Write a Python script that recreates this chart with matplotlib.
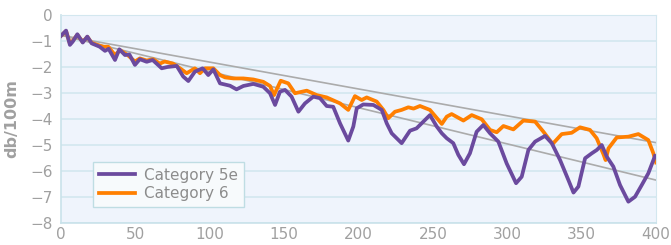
import numpy as np
import matplotlib
matplotlib.use('Agg')
import matplotlib.pyplot as plt

# Category 5e readings (length, db/100m)
cat5e_x = [0, 3.4, 6, 7.8, 11, 14.6, 17.7, 20.6, 26, 29.6, 32, 36.3, 39.2, 43, 46, 49.7,
           53, 57.6, 61.6, 67.7, 71.5, 77.8, 82.2, 85.6, 90, 95.2, 99, 102.4, 106.9, 113.6,
           118, 122.6, 129.3, 136, 140.5, 143.9, 147.2, 150.6, 155, 159.6, 164, 169.6, 174.1,
           178.6, 183, 187.6, 193.1, 196.5, 198.8, 203.2, 210, 215.6, 219, 222.3, 229, 234.6,
           239, 243.6, 248, 252.6, 256, 259.3, 263.7, 267.1, 270.9, 274.9, 279.4, 283.9,
           288.4, 294, 299.6, 305.9, 309.7, 314.2, 318.7, 325.4, 329.9, 335.5, 341.1, 344.5,
           347.8, 352.3, 356.8, 360.2, 363.5, 366.9, 371.3, 375.8, 381.4, 385.9, 390.4,
           394.8, 399.3]
cat5e_y = [-0.80, -0.60, -1.15, -1.03, -0.74, -1.06, -0.83, -1.09, -1.22, -1.38, -1.30, -1.73,
           -1.32, -1.54, -1.52, -1.92, -1.70, -1.80, -1.73, -2.05, -2.00, -1.96, -2.37, -2.54,
           -2.18, -2.05, -2.31, -2.09, -2.63, -2.72, -2.86, -2.73, -2.65, -2.76, -3.01, -3.46,
           -2.95, -2.88, -3.14, -3.72, -3.40, -3.14, -3.20, -3.50, -3.53, -4.17, -4.83, -4.29,
           -3.59, -3.44, -3.46, -3.65, -4.17, -4.55, -4.93, -4.45, -4.36, -4.10, -3.85, -4.29,
           -4.55, -4.74, -4.93, -5.38, -5.74, -5.32, -4.49, -4.23, -4.55, -4.87, -5.71, -6.47,
           -6.22, -5.19, -4.87, -4.65, -4.93, -5.58, -6.35, -6.83, -6.60, -5.51, -5.32, -5.19,
           -5.00, -5.45, -5.83, -6.54, -7.18, -6.99, -6.54, -6.09, -5.42]

# Category 6 readings
cat6_x = [0, 3.4, 6, 7.8, 11, 14.6, 17.7, 20.6, 26, 28.5, 31.8, 36.3, 39.7, 45, 49.7, 53,
          57.6, 62, 66.4, 69.7, 75.3, 80, 84.5, 90, 93.4, 96.8, 102.4, 106.9, 110.3, 116,
          122.6, 129.3, 136, 140.5, 143.2, 147.7, 152.8, 157.3, 165.2, 171.9, 178.6, 187.6,
          193.1, 197.6, 202.1, 205.5, 212.2, 216.7, 220, 224.5, 229, 233.5, 237, 241.3, 248,
          256, 259.3, 262.6, 270.5, 276.1, 282.8, 288.4, 292.9, 297.4, 304.1, 310.8, 318.7,
          324.3, 330.5, 336.6, 343.3, 348.9, 355.6, 360.1, 364.6, 366.1, 368, 373.6, 381.4,
          388.1, 394.8, 398.2, 400]
cat6_y = [-0.80, -0.62, -1.10, -1.00, -0.76, -1.04, -0.84, -1.07, -1.18, -1.22, -1.22, -1.54,
          -1.35, -1.55, -1.79, -1.67, -1.75, -1.70, -1.87, -1.79, -1.87, -2.05, -2.24, -2.05,
          -2.24, -2.05, -2.05, -2.31, -2.40, -2.44, -2.44, -2.48, -2.57, -2.73, -3.08, -2.53,
          -2.63, -3.01, -2.91, -3.08, -3.17, -3.40, -3.65, -3.12, -3.27, -3.17, -3.33, -3.65,
          -3.97, -3.72, -3.65, -3.55, -3.60, -3.50, -3.65, -4.19, -3.91, -3.81, -4.06, -3.85,
          -4.01, -4.42, -4.51, -4.27, -4.40, -4.06, -4.10, -4.49, -4.96, -4.58, -4.53, -4.32,
          -4.42, -4.74, -5.35, -5.58, -5.13, -4.71, -4.68, -4.58, -4.81, -5.32, -5.67]

# linear trend end points
trend_x = [0, 400]
trend6_y = [-0.78, -4.91]
trend5e_y = [-0.78, -6.35]

purple = '#6B4A9E'
orange = '#FF7F00'
grid_c = '#D3E7EF'
text_c = '#A0A0A0'

fig = plt.figure(figsize=(6.71, 2.45), dpi=100)
ax = fig.add_axes([0.0909, 0.0898, 0.8868, 0.849])
ax.set_facecolor('#EFF4FC')

ax.plot(trend_x, trend6_y, color='#ABABAB', lw=1.2, zorder=2)
ax.plot(trend_x, trend5e_y, color='#ABABAB', lw=1.2, zorder=2)
ax.plot(cat6_x, cat6_y, color=orange, lw=2.7, label='Category 6', zorder=3,
        solid_joinstyle='round')
ax.plot(cat5e_x, cat5e_y, color=purple, lw=2.7, label='Category 5e', zorder=4,
        solid_joinstyle='round')

ax.set_xlim(0, 400)
ax.set_ylim(-8, 0)
ax.set_xticks(np.arange(0, 401, 50))
ax.set_yticks(np.arange(-8, 1, 1))
ax.grid(axis='y', color=grid_c, lw=1.2)
ax.set_axisbelow(True)
for s in ['top', 'right']:
    ax.spines[s].set_color(grid_c)
for s in ['left', 'bottom']:
    ax.spines[s].set_color('#C9E2EA')
    ax.spines[s].set_linewidth(1.2)
ax.tick_params(length=0, labelsize=11, colors=text_c)
ax.tick_params(axis='x', pad=3)
ax.tick_params(axis='y', pad=6)
ax.set_ylabel('db/100m', fontsize=11.5, fontweight='bold', color=text_c, labelpad=8)

h, l = ax.get_legend_handles_labels()
leg = ax.legend(h[::-1], l[::-1], loc='lower left', bbox_to_anchor=(0.054, 0.077),
                fontsize=11, frameon=True, fancybox=False, handlelength=2.35,
                borderpad=0.4, labelspacing=0.2, handletextpad=0.6, borderaxespad=0)
leg.get_frame().set_facecolor('#F7FAFC')
leg.get_frame().set_edgecolor('#BFDDE3')
leg.get_frame().set_alpha(1)
for t in leg.get_texts():
    t.set_color('#8C8C8C')

fig.savefig('out.png', dpi=100)
